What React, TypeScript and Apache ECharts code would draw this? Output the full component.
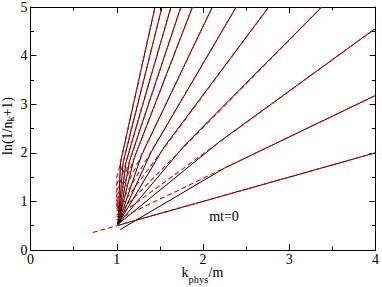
import { useEffect, useRef } from "react";
import * as echarts from "echarts";

// Axis tick labels
const xTickLabels = ["0", "1", "2", "3", "4"];
const yTickLabels = ["0", "1", "2", "3", "4", "5"];
const curveLabel = "mt=0";

// Black solid curves: [k_phys/m, ln(1/n_k+1)]
const blackMt0 = [[1.0, 0.5], [4.0, 2.0]];
const blackR2 = [[1.04, 0.42], [2.25, 1.686], [4.0, 3.18]];
const blackR1 = [[1.015, 0.53], [2.2, 2.24], [4.0, 4.56]];
const blackL9 = [[1.015, 0.53], [1.8, 2.18], [3.377, 5.0]];
const blackL8 = [[1.015, 0.53], [1.55, 2.12], [2.762, 5.0]];
const blackL7 = [[1.015, 0.53], [1.4, 2.02], [2.385, 5.0]];
const blackL6 = [[1.015, 0.53], [1.29, 1.96], [2.108, 5.0]];
const blackL5 = [[1.015, 0.53], [1.2, 1.88], [1.878, 5.0]];
const blackL4 = [[1.015, 0.53], [1.15, 1.84], [1.744, 5.0]];
const blackL3 = [[1.015, 0.53], [1.107, 1.8], [1.629, 5.0]];
const blackL2 = [[1.015, 0.53], [1.074, 1.8], [1.525, 5.0]];
const blackL1 = [[1.015, 0.53], [1.043, 1.8], [1.444, 5.0]];

// Red dashed curves
const redMt0 = [[0.72, 0.36], [4.0, 2.0]];
const redR2 = [[1.0, 0.62], [4.0, 3.18]];
const redR1 = [[1.0, 0.68], [4.0, 4.56]];
const redL9 = [[1.0, 0.72], [1.03, 0.77], [3.377, 5.0]];
const redL8 = [[1.0, 0.8], [1.03, 0.86], [2.762, 5.0]];
const redL7 = [[1.0, 0.84], [1.012, 0.88], [1.003, 0.92], [1.045, 0.96], [2.385, 5.0]];
const redL6 = [[0.998, 0.88], [1.01, 0.93], [1.0, 0.98], [1.04, 1.04], [2.108, 5.0]];
const redL5 = [[0.997, 0.93], [1.01, 0.99], [1.0, 1.05], [1.035, 1.12], [1.878, 5.0]];
const redL4 = [[0.995, 1.0], [1.008, 1.07], [0.998, 1.13], [1.03, 1.2], [1.744, 5.0]];
const redL3 = [[0.994, 1.08], [1.006, 1.16], [0.997, 1.23], [1.025, 1.3], [1.629, 5.0]];
const redL2 = [[0.993, 1.18], [1.005, 1.27], [0.996, 1.35], [1.02, 1.42], [1.525, 5.0]];
const redL1 = [[0.995, 1.32], [1.007, 1.41], [0.999, 1.5], [1.015, 1.58], [1.444, 5.0]];

const blackCurves = [blackMt0, blackR2, blackR1, blackL9, blackL8, blackL7, blackL6, blackL5, blackL4, blackL3, blackL2, blackL1];
const redCurves = [redMt0, redR2, redR1, redL9, redL8, redL7, redL6, redL5, redL4, redL3, redL2, redL1];

const FONT = "Liberation Serif";

export default function App() {
  const ref = useRef<HTMLDivElement>(null);

  useEffect(() => {
    if (!ref.current) return;
    const chart = echarts.init(ref.current, null, { renderer: "svg" });

    const xMax = xTickLabels.length - 1;
    const yMax = yTickLabels.length - 1;

    const baseAxis = (labels: string[], max: number, showLabel: boolean, position: string, margin: number) => ({
      type: "value",
      min: 0,
      max,
      interval: 1,
      position,
      axisLine: { show: true, onZero: false, lineStyle: { color: "#000", width: 1 } },
      axisTick: { show: true, inside: true, length: 6, lineStyle: { color: "#000", width: 1 } },
      minorTick: { show: true, splitNumber: 2, length: 3.5, lineStyle: { color: "#000", width: 1 } },
      splitLine: { show: false },
      minorSplitLine: { show: false },
      axisLabel: {
        show: showLabel,
        color: "#000",
        fontSize: 14,
        fontFamily: FONT,
        margin,
        formatter: (v: number) => labels[Math.round(v)] ?? "",
      },
    });

    const series: any[] = [];
    blackCurves.forEach((d) =>
      series.push({
        type: "line",
        data: d,
        showSymbol: false,
        symbol: "none",
        silent: true,
        lineStyle: { color: "#000", width: 1 },
        z: 2,
      })
    );
    redCurves.forEach((d) =>
      series.push({
        type: "line",
        data: d,
        showSymbol: false,
        symbol: "none",
        silent: true,
        lineStyle: { color: "#ff0000", width: 1.1, type: [5, 3] },
        z: 3,
      })
    );

    const txt = (text: string, x: number, y: number, size: number) => ({
      type: "text",
      x,
      y,
      silent: true,
      style: { text, fontSize: size, fontFamily: FONT, fill: "#000", align: "left", verticalAlign: "middle" },
    });

    chart.setOption({
      animation: false,
      backgroundColor: "#fff",
      grid: { left: 30.5, right: 4.7, top: 6, bottom: 37, containLabel: false },
      xAxis: [
        baseAxis(xTickLabels, xMax, true, "bottom", 2),
        baseAxis(xTickLabels, xMax, false, "top", 2),
      ],
      yAxis: [
        baseAxis(yTickLabels, yMax, true, "left", 3),
        baseAxis(yTickLabels, yMax, false, "right", 3),
      ],
      series,
      graphic: [
        {
          type: "text",
          x: 224,
          y: 216.3,
          silent: true,
          style: { text: curveLabel, fontSize: 14, fontFamily: FONT, fill: "#000", align: "center", verticalAlign: "middle" },
        },
        txt("k", 181.5, 272.8, 14),
        txt("phys", 188.5, 279.5, 10.5),
        txt("/m", 208.5, 272.8, 14),
        {
          type: "group",
          x: 0,
          y: 0,
          rotation: Math.PI / 2,
          silent: true,
          children: [
            txt("ln(1/n", -155, 7.2, 14),
            txt("k", -121.6, 10.8, 10),
            txt("+1)", -116.6, 7.2, 14),
          ],
        },
      ],
    });

    return () => chart.dispose();
  }, []);

  return (
    <div
      ref={ref}
      style={{ position: "fixed", left: 0, top: 0, width: 382, height: 287, background: "#fff" }}
    />
  );
}
